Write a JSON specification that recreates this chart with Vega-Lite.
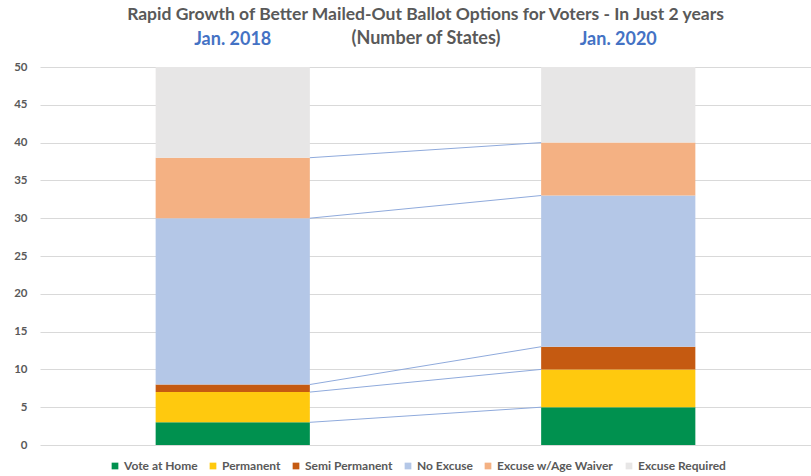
{
  "$schema": "https://vega.github.io/schema/vega-lite/v6.json",
  "width": 771,
  "height": 378,
  "autosize": {"type": "none"},
  "padding": {"left": 40, "top": 67, "right": 0, "bottom": 31},
  "background": "white",
  "config": {
    "font": "Lato",
    "view": {"stroke": null}
  },
  "title": {
    "text": "Rapid Growth of Better Mailed-Out Ballot Options for Voters - In Just 2 years",
    "font": "Lato",
    "fontSize": 17.5,
    "fontWeight": "bold",
    "color": "#595959",
    "anchor": "middle",
    "offset": 6
  },
  "data": {
    "values": [
      {"year": "Jan. 2018", "series": "Vote at Home", "rank": 1, "n": 3},
      {"year": "Jan. 2018", "series": "Permanent", "rank": 2, "n": 4},
      {"year": "Jan. 2018", "series": "Semi Permanent", "rank": 3, "n": 1},
      {"year": "Jan. 2018", "series": "No Excuse", "rank": 4, "n": 22},
      {"year": "Jan. 2018", "series": "Excuse w/Age Waiver", "rank": 5, "n": 8},
      {"year": "Jan. 2018", "series": "Excuse Required", "rank": 6, "n": 12},
      {"year": "Jan. 2020", "series": "Vote at Home", "rank": 1, "n": 5},
      {"year": "Jan. 2020", "series": "Permanent", "rank": 2, "n": 5},
      {"year": "Jan. 2020", "series": "Semi Permanent", "rank": 3, "n": 3},
      {"year": "Jan. 2020", "series": "No Excuse", "rank": 4, "n": 20},
      {"year": "Jan. 2020", "series": "Excuse w/Age Waiver", "rank": 5, "n": 7},
      {"year": "Jan. 2020", "series": "Excuse Required", "rank": 6, "n": 10}
    ]
  },
  "resolve": {"axis": {"y": "independent"}},
  "layer": [
    {
      "mark": {"type": "bar"},
      "encoding": {
        "x": {
          "field": "year",
          "type": "nominal",
          "scale": {"paddingInner": 0.6, "paddingOuter": 0.3},
          "axis": {
            "orient": "top",
            "title": "(Number of States)",
            "titleFont": "Lato",
            "titleFontSize": 18,
            "titleFontWeight": "bold",
            "titleColor": "#595959",
            "titleY": -29,
            "titleBaseline": "middle",
            "labelAngle": 0,
            "labelFont": "Lato",
            "labelFontSize": 18,
            "labelFontWeight": "bold",
            "labelColor": "#4472c4",
            "labelPadding": 19,
            "ticks": false,
            "domain": false
          }
        },
        "y": {
          "field": "n",
          "type": "quantitative",
          "stack": "zero",
          "scale": {"domain": [0, 50], "nice": false},
          "axis": {
            "title": null,
            "values": [0, 5, 10, 15, 20, 25, 30, 35, 40, 45, 50],
            "labelFont": "Lato",
            "labelFontSize": 11.5,
            "labelFontWeight": "bold",
            "labelColor": "#595959",
            "labelPadding": 13,
            "labelOverlap": false,
            "ticks": false,
            "domain": false,
            "gridColor": "#d9d9d9",
            "gridWidth": 1
          }
        },
        "order": {"field": "rank", "sort": "ascending"},
        "color": {
          "field": "series",
          "type": "nominal",
          "scale": {
            "domain": ["Vote at Home", "Permanent", "Semi Permanent", "No Excuse", "Excuse w/Age Waiver", "Excuse Required"],
            "range": ["#00914f", "#ffc90e", "#c55a11", "#b4c7e7", "#f4b183", "#e7e6e6"]
          },
          "legend": {
            "orient": "none",
            "legendX": 69,
            "legendY": 393,
            "direction": "horizontal",
            "title": null,
            "symbolType": "square",
            "symbolSize": 45,
            "symbolStrokeWidth": 0,
            "labelFont": "Lato",
            "labelFontSize": 12,
            "labelFontWeight": "bold",
            "labelColor": "#595959",
            "labelOffset": 3,
            "columnPadding": 9
          }
        }
      }
    },
    {
      "transform": [
        {"stack": "n", "groupby": ["year"], "sort": [{"field": "rank", "order": "ascending"}], "as": ["lo", "hi"]},
        {"filter": "datum.rank < 6"},
        {"pivot": "year", "value": "hi", "groupby": ["series"]}
      ],
      "mark": {"type": "rule", "color": "#8faadc", "strokeWidth": 1, "xOffset": 77.1, "x2Offset": -77.1},
      "encoding": {
        "x": {"datum": "Jan. 2018", "type": "nominal"},
        "x2": {"datum": "Jan. 2020"},
        "y": {"field": "Jan\\. 2018", "type": "quantitative", "axis": null},
        "y2": {"field": "Jan\\. 2020"}
      }
    }
  ]
}
